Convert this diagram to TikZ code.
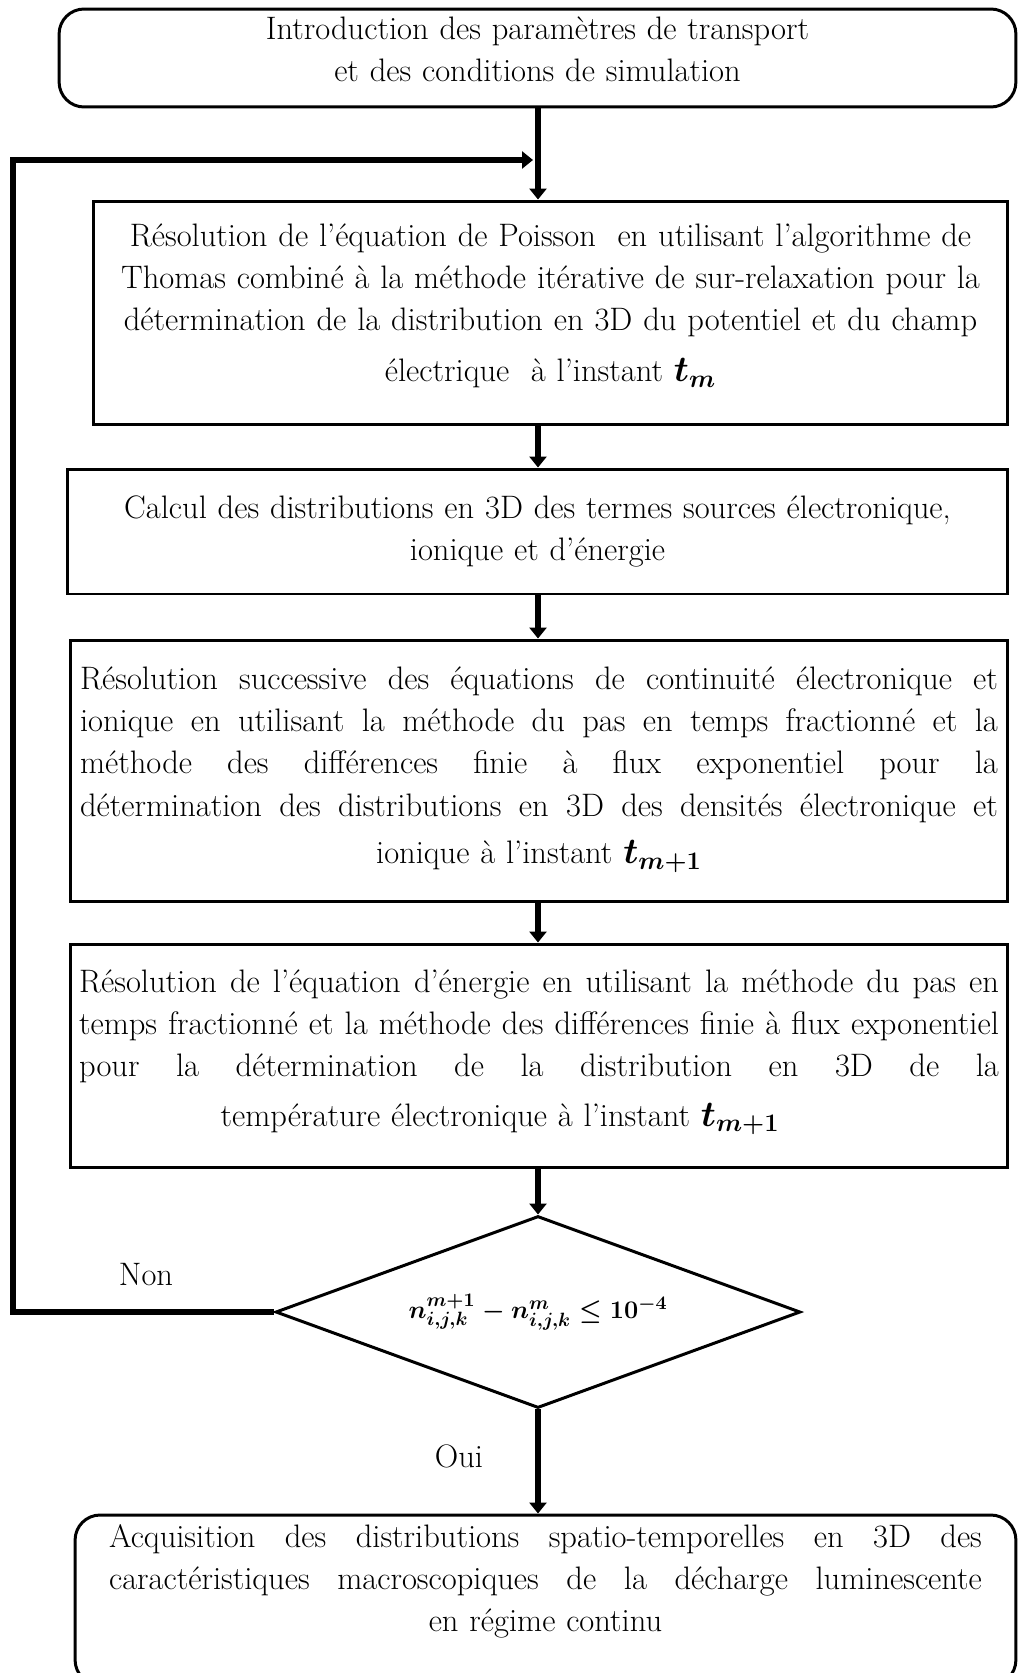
\documentclass[tikz,border=0pt]{standalone}
\usetikzlibrary{shapes.geometric,arrows.meta}
\newcommand{\jline}[1]{\makebox[\linewidth][s]{\spaceskip=0pt\xspaceskip=0pt #1}}
\newcommand{\padbottom}[1]{\\[#1]\mbox{}}
\newcommand{\tinstant}[1]{{\fontsize{22}{24}\selectfont\boldmath$t_{#1}$}}
\newcommand{\critere}{{\fontsize{15.5}{20}\selectfont\boldmath$n^{m+1}_{i,j,k}-n^{m}_{i,j,k}\le 10^{-4}$}}
\begin{document}
\begin{tikzpicture}[x=0.02cm,y=-0.02cm,
  every node/.style={font=\fontsize{18.5}{24}\selectfont},
  box/.style={draw,line width=1.7pt,inner sep=0pt,align=center},
  rbox/.style={box,rounded corners=0.5cm},
  flow/.style={line width=3.3pt,-{Triangle[length=0.22cm,width=0.34cm]}}]
  \useasboundingbox (0,0) rectangle (1019,1673);
  \coordinate (axis) at (538,0); \coordinate (join) at (533,160);
  \coordinate (loop) at (13,0);
  \node[rbox,minimum width=19.14cm,minimum height=1.96cm,text width=18.6cm] (intro) at (537.5,58)
    {Introduction des paramètres de transport\\ et des conditions de simulation\padbottom{-14pt}};
  \node[box,minimum width=18.3cm,minimum height=4.48cm,text width=18cm] (poisson) at (550.5,313)
    {Résolution de l’équation de Poisson ~en utilisant l’algorithme de\\
     Thomas combiné à la méthode itérative de sur-relaxation pour la\\
     détermination de la distribution en 3D du potentiel et du champ\\[5pt]
     électrique ~à l’instant \tinstant{m}\padbottom{-12.5pt}};
  \node[box,minimum width=18.82cm,minimum height=2.5cm,text width=18.4cm] (source) at (537.5,531.5)
    {Calcul des distributions en 3D des termes sources électronique,\\ ionique et d’énergie};
  \node[box,minimum width=18.76cm,minimum height=5.24cm,text width=18.36cm] (cont) at (539,771)
    {\jline{Résolution successive des équations de continuité électronique et}\\
     \jline{ionique en utilisant la méthode du pas en temps fractionné et la}\\
     \jline{méthode des différences finie à flux exponentiel pour la}\\
     \jline{détermination des distributions en 3D des densités électronique et}\\[3pt]
     ionique à l’instant \tinstant{m+1}\padbottom{-17.5pt}};
  \node[box,minimum width=18.76cm,minimum height=4.48cm,text width=18.4cm] (energ) at (539,1056)
    {\jline{Résolution de l’équation d’énergie en utilisant la méthode du pas en}\\
     \jline{temps fractionné et la méthode des différences finie à flux exponentiel}\\
     \jline{pour la détermination de la distribution en 3D de la}\\[4pt]
     \hspace*{-1.56cm}température électronique à l’instant \tinstant{m+1}\padbottom{-15pt}};
  \node[draw,diamond,line width=1.7pt,inner sep=0pt,shape aspect=2.73,minimum width=10.5cm,
    minimum height=3.84cm] (dec) at (538,1312) {\critere};
  \node[rbox,minimum width=18.82cm,minimum height=3.4cm,text width=17.46cm] (acq) at (545.5,1600)
    {\jline{Acquisition des distributions spatio-temporelles en 3D des}\\
     \jline{caractéristiques macroscopiques de la décharge luminescente}\\
     en régime continu\padbottom{1pt}};
  \node (non) at (146,1275) {Non};
  \node (oui) at (459,1456) {Oui};
  \foreach \a/\b in {intro/poisson,poisson/source,source/cont,cont/energ,energ/dec}
    \draw[flow] (\a.south -| axis) -- (\b.north -| axis);
  \draw[flow] (dec.south) -- (acq.north -| axis);
  \draw[flow,line width=3.6pt,line join=miter] (dec.west) -| (loop |- join) -- (join);
\end{tikzpicture}
\end{document}
